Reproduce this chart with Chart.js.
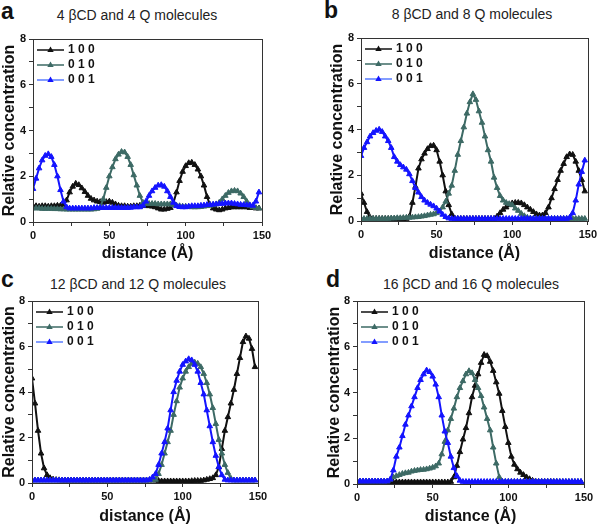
<!DOCTYPE html>
<html>
<head>
<meta charset="utf-8">
<script src="https://cdn.jsdelivr.net/npm/chart.js@4.4.1/dist/chart.umd.min.js"></script>
<style>
  body { margin: 0; background: #fff; width: 600px; height: 527px; overflow: hidden; position: relative;
         font-family: 'Liberation Sans', Arial, sans-serif; }
  .panel { position: absolute; }
  .letter { position: absolute; font-weight: bold; font-size: 23px; line-height: 23px; color: #111; }
  .title { position: absolute; width: 300px; text-align: center; font-size: 14px; line-height: 14px; color: #222; white-space: nowrap; }
</style>
</head>
<body>
<div class="letter" style="left:1px;top:0px">a</div>
<div class="letter" style="left:324px;top:-1px">b</div>
<div class="letter" style="left:1px;top:268px">c</div>
<div class="letter" style="left:326px;top:268px">d</div>

<div class="title" style="left:-13px;top:8px">4 βCD and 4 Q molecules</div>
<div class="title" style="left:322px;top:7px">8 βCD and 8 Q molecules</div>
<div class="title" style="left:-12px;top:277px">12 βCD and 12 Q molecules</div>
<div class="title" style="left:321px;top:277px">16 βCD and 16 Q molecules</div>

<div class="panel" style="left:0;top:0;width:300px;height:263px"><canvas id="chartA"></canvas></div>
<div class="panel" style="left:300px;top:0;width:300px;height:263px"><canvas id="chartB"></canvas></div>
<div class="panel" style="left:0;top:263px;width:300px;height:264px"><canvas id="chartC"></canvas></div>
<div class="panel" style="left:300px;top:263px;width:300px;height:264px"><canvas id="chartD"></canvas></div>

<script>
// distance (Å) shared by all panels
const distance = [0,2,4,6,8,10,12,14,16,18,20,22,24,26,28,30,32,34,36,38,
  40,42,44,46,48,50,52,54,56,58,60,62,64,66,68,70,72,74,76,78,
  80,82,84,86,88,90,92,94,96,98,100,102,104,106,108,110,112,114,116,118,
  120,122,124,126,128,130,132,134,136,138,140,142,144,146,148];

const seriesNames = ['1 0 0', '0 1 0', '0 0 1'];

// a: 4 βCD and 4 Q molecules
const a100 = [0.70,0.70,0.68,0.70,0.70,0.68,0.70,0.70,0.72,0.72,
  0.75,0.95,1.30,1.55,1.68,1.62,1.48,1.32,1.15,1.02,
  0.95,0.90,0.88,0.85,0.88,0.90,0.85,0.78,0.72,0.70,
  0.70,0.68,0.68,0.70,0.70,0.72,0.72,0.70,0.70,0.68,
  0.65,0.60,0.55,0.55,0.58,0.62,0.85,1.30,1.80,2.20,
  2.45,2.58,2.60,2.50,2.30,2.00,1.60,1.10,0.75,0.60,
  0.55,0.52,0.55,0.60,0.62,0.65,0.65,0.65,0.65,0.65,
  0.65,0.62,0.62,0.60,0.60];
const a010 = [0.60,0.60,0.60,0.58,0.58,0.58,0.58,0.57,0.57,0.56,
  0.56,0.55,0.55,0.55,0.55,0.55,0.55,0.55,0.55,0.55,
  0.56,0.58,0.65,1.00,1.50,2.00,2.40,2.75,2.95,3.07,
  3.05,2.85,2.50,2.05,1.60,1.15,0.85,0.80,0.80,0.80,
  0.80,0.78,0.78,0.78,0.78,0.78,0.75,0.72,0.70,0.68,
  0.68,0.66,0.65,0.65,0.65,0.66,0.68,0.70,0.72,0.74,
  0.78,0.85,1.00,1.15,1.28,1.35,1.37,1.35,1.25,1.10,
  0.90,0.72,0.65,0.62,0.60];
const a001 = [1.45,1.90,2.35,2.70,2.90,2.97,2.85,2.50,2.00,1.40,
  0.90,0.65,0.60,0.60,0.60,0.60,0.60,0.60,0.60,0.60,
  0.62,0.62,0.62,0.62,0.62,0.62,0.62,0.62,0.62,0.62,
  0.62,0.62,0.63,0.65,0.65,0.65,0.72,0.90,1.15,1.35,
  1.50,1.60,1.62,1.55,1.35,1.10,0.85,0.70,0.66,0.65,
  0.65,0.68,0.70,0.70,0.70,0.72,0.73,0.75,0.75,0.77,
  0.78,0.80,0.80,0.82,0.82,0.82,0.80,0.78,0.76,0.75,
  0.74,0.74,0.72,0.90,1.30];

// b: 8 βCD and 8 Q molecules
const b100 = [1.20,0.80,0.40,0.15,0.10,0.10,0.10,0.10,0.10,0.10,
  0.10,0.10,0.10,0.10,0.10,0.10,0.20,0.80,1.50,2.30,
  2.70,2.95,3.15,3.28,3.30,3.10,2.60,2.00,1.30,0.70,
  0.30,0.12,0.10,0.10,0.10,0.10,0.10,0.10,0.10,0.10,
  0.10,0.10,0.10,0.10,0.10,0.20,0.35,0.50,0.60,0.70,
  0.78,0.80,0.80,0.78,0.70,0.60,0.50,0.40,0.30,0.25,
  0.25,0.35,0.60,1.00,1.40,1.80,2.20,2.50,2.80,2.92,
  2.90,2.60,2.20,1.80,1.30];
const b010 = [0.10,0.10,0.10,0.10,0.10,0.10,0.10,0.10,0.10,0.10,
  0.12,0.12,0.13,0.13,0.14,0.15,0.15,0.16,0.17,0.18,
  0.20,0.22,0.25,0.28,0.30,0.35,0.42,0.60,0.85,1.20,
  1.55,2.20,2.90,3.50,4.10,4.70,5.20,5.55,5.30,4.80,
  4.30,3.70,3.10,2.60,1.90,1.45,1.10,0.90,0.80,0.75,
  0.70,0.55,0.45,0.32,0.22,0.15,0.12,0.10,0.10,0.10,
  0.10,0.10,0.10,0.10,0.10,0.10,0.10,0.10,0.10,0.10,
  0.10,0.10,0.10,0.10,0.10];
const b001 = [2.85,3.20,3.45,3.70,3.85,3.95,4.00,3.90,3.70,3.50,
  3.20,2.80,2.60,2.45,2.35,2.25,2.05,1.75,1.45,1.25,
  1.05,0.90,0.80,0.72,0.65,0.55,0.42,0.28,0.18,0.12,
  0.10,0.10,0.10,0.10,0.10,0.10,0.10,0.10,0.10,0.10,
  0.10,0.10,0.10,0.10,0.10,0.10,0.10,0.10,0.10,0.10,
  0.10,0.10,0.10,0.10,0.10,0.10,0.10,0.10,0.10,0.10,
  0.10,0.10,0.10,0.10,0.10,0.10,0.10,0.10,0.10,0.15,
  0.35,0.90,1.60,2.15,2.65];

// c: 12 βCD and 12 Q molecules
const c100 = [4.60,3.50,2.30,1.30,0.65,0.35,0.22,0.16,0.14,0.13,
  0.12,0.12,0.12,0.12,0.12,0.12,0.12,0.12,0.12,0.12,
  0.12,0.12,0.12,0.12,0.12,0.12,0.12,0.12,0.12,0.12,
  0.12,0.12,0.12,0.12,0.12,0.12,0.12,0.12,0.12,0.12,
  0.12,0.12,0.10,0.08,0.08,0.08,0.08,0.08,0.08,0.08,
  0.08,0.08,0.08,0.09,0.10,0.10,0.10,0.12,0.15,0.18,
  0.22,0.35,0.70,1.50,2.30,2.90,3.50,4.10,4.80,5.50,
  6.20,6.45,6.35,5.90,5.10];
const c010 = [0.12,0.12,0.12,0.12,0.12,0.12,0.12,0.12,0.12,0.12,
  0.12,0.12,0.12,0.12,0.12,0.12,0.12,0.12,0.12,0.12,
  0.12,0.12,0.12,0.12,0.12,0.12,0.12,0.12,0.12,0.12,
  0.12,0.12,0.12,0.12,0.12,0.12,0.12,0.12,0.12,0.12,
  0.12,0.15,0.40,0.80,1.30,1.80,2.30,3.00,3.60,4.20,
  4.60,4.90,5.10,5.25,5.30,5.25,5.10,4.80,4.40,3.90,
  3.30,2.60,1.90,1.30,0.80,0.45,0.20,0.12,0.12,0.12,
  0.12,0.12,0.12,0.12,0.12];
const c001 = [0.12,0.12,0.12,0.12,0.12,0.12,0.12,0.12,0.12,0.12,
  0.12,0.12,0.12,0.12,0.12,0.12,0.12,0.12,0.12,0.12,
  0.12,0.12,0.12,0.12,0.12,0.12,0.12,0.12,0.12,0.12,
  0.12,0.12,0.12,0.12,0.12,0.12,0.12,0.12,0.12,0.15,
  0.25,0.40,0.80,1.30,1.80,2.40,3.20,4.00,4.50,4.90,
  5.20,5.35,5.45,5.40,5.20,4.90,4.40,3.90,3.20,2.50,
  1.80,1.20,0.70,0.35,0.15,0.12,0.12,0.12,0.12,0.12,
  0.12,0.12,0.12,0.12,0.12];

// d: 16 βCD and 16 Q molecules
const d100 = [0.10,0.10,0.10,0.10,0.10,0.10,0.10,0.10,0.10,0.10,
  0.10,0.10,0.08,0.08,0.08,0.08,0.08,0.08,0.08,0.08,
  0.08,0.08,0.08,0.08,0.08,0.08,0.08,0.08,0.08,0.08,
  0.08,0.10,0.30,0.80,1.40,1.95,2.45,3.10,3.80,4.30,
  4.80,5.30,5.65,5.60,5.35,4.95,4.45,3.95,3.20,2.50,
  1.80,1.20,0.85,0.65,0.50,0.40,0.30,0.22,0.15,0.12,
  0.10,0.10,0.10,0.10,0.10,0.09,0.09,0.08,0.08,0.08,
  0.08,0.08,0.08,0.08,0.08];
const d010 = [0.12,0.12,0.12,0.12,0.12,0.12,0.12,0.12,0.12,0.12,
  0.12,0.20,0.30,0.35,0.40,0.45,0.48,0.50,0.55,0.58,
  0.60,0.62,0.63,0.65,0.68,0.72,0.78,0.90,1.30,1.85,
  2.35,2.85,3.30,3.80,4.20,4.50,4.80,4.94,4.85,4.55,
  4.20,3.85,3.35,2.85,2.35,1.60,0.90,0.30,0.12,0.10,
  0.10,0.10,0.10,0.10,0.10,0.10,0.10,0.10,0.10,0.10,
  0.10,0.10,0.10,0.10,0.10,0.10,0.10,0.10,0.10,0.10,
  0.10,0.10,0.10,0.10,0.10];
const d001 = [0.12,0.12,0.12,0.12,0.12,0.12,0.12,0.12,0.12,0.12,
  0.12,0.20,0.60,1.20,1.60,2.10,2.60,3.00,3.40,3.80,
  4.20,4.55,4.80,4.97,4.90,4.70,4.35,3.80,3.00,2.30,
  1.80,1.20,0.70,0.35,0.15,0.10,0.10,0.10,0.10,0.10,
  0.10,0.10,0.10,0.10,0.10,0.10,0.10,0.10,0.10,0.10,
  0.10,0.10,0.10,0.10,0.10,0.10,0.10,0.10,0.10,0.10,
  0.10,0.10,0.10,0.10,0.10,0.10,0.10,0.10,0.10,0.10,
  0.10,0.10,0.10,0.10,0.10];

const FONT = "'Liberation Sans', Arial, sans-serif";
const colors = ['#111111', '#3d6a65', '#1414ff'];
const legendLines = ['#111111', '#3d6a65', '#5a7dff'];

// box around the plot area
const framePlugin = {
  id: 'frame',
  afterDraw(chart) {
    const {ctx, chartArea: ca} = chart;
    ctx.save();
    ctx.strokeStyle = '#333';
    ctx.lineWidth = 1;
    ctx.strokeRect(Math.round(ca.left) + 0.5, Math.round(ca.top) + 0.5,
      Math.round(ca.right - ca.left), Math.round(ca.bottom - ca.top));
    ctx.restore();
  }
};

// legend in the top-left corner of the plot: line + triangle + bold label
const cornerLegend = {
  id: 'cornerLegend',
  afterDatasetsDraw(chart) {
    const {ctx, chartArea: ca} = chart;
    ctx.save();
    ctx.font = 'bold 12px ' + FONT;
    ctx.textBaseline = 'middle';
    chart.data.datasets.forEach((ds, i) => {
      const y = ca.top + 11 + i * 15;
      const x0 = ca.left + 4, x1 = ca.left + 31, xm = (x0 + x1) / 2;
      ctx.strokeStyle = legendLines[i];
      ctx.lineWidth = 1.5;
      ctx.beginPath(); ctx.moveTo(x0, y); ctx.lineTo(x1, y); ctx.stroke();
      ctx.fillStyle = colors[i];
      ctx.beginPath();
      ctx.moveTo(xm, y - 3.5); ctx.lineTo(xm + 3.2, y + 2); ctx.lineTo(xm - 3.2, y + 2);
      ctx.closePath(); ctx.fill();
      ctx.fillStyle = '#111';
      ctx.fillText(ds.label, ca.left + 35, y);
    });
    ctx.restore();
  }
};

function makeDataset(i, ys) {
  return {
    label: seriesNames[i],
    data: distance.map((x, k) => ({x: x, y: ys[k]})),
    borderColor: colors[i],
    backgroundColor: colors[i],
    pointBackgroundColor: colors[i],
    pointBorderColor: colors[i],
    pointStyle: 'triangle',
    pointRadius: 3.2,
    pointBorderWidth: 1,
    borderWidth: 2,
    tension: 0,
    order: 3 - i   // 0 0 1 drawn on top
  };
}

function makePanel(id, series, g) {
  new Chart(document.getElementById(id), {
    type: 'line',
    data: { datasets: series.map((ys, i) => makeDataset(i, ys)) },
    options: {
      animation: false,
      responsive: true,
      maintainAspectRatio: false,
      layout: { padding: { left: g.left, right: g.right, top: g.top, bottom: g.bottom } },
      plugins: { legend: { display: false }, tooltip: { enabled: false } },
      scales: {
        x: {
          type: 'linear', min: 0, max: 150,
          afterFit: s => { s.height = g.xh; },
          ticks: {
            stepSize: 25, autoSkip: false, maxRotation: 0, padding: 3, color: '#111',
            font: { family: FONT, size: 11, weight: 'bold' },
            callback: v => (v % 50 === 0 ? v : '')
          },
          grid: { drawOnChartArea: false, drawTicks: true, tickLength: 4, tickColor: '#333' },
          border: { color: '#333', width: 1 },
          title: { display: true, text: 'distance (Å)', color: '#111', padding: 0,
                   font: { family: FONT, size: 16, weight: 'bold' } }
        },
        y: {
          min: 0, max: 8,
          afterFit: s => { s.width = g.yw; },
          ticks: {
            stepSize: 1, autoSkip: false, padding: 3, color: '#111',
            font: { family: FONT, size: 11, weight: 'bold' },
            callback: v => (v % 2 === 0 ? v : '')
          },
          grid: { drawOnChartArea: false, drawTicks: true, tickLength: 4, tickColor: '#333' },
          border: { color: '#333', width: 1 },
          title: { display: true, text: 'Relative concentration', color: '#111', padding: 0,
                   font: { family: FONT, size: 16, weight: 'bold' } }
        }
      }
    },
    plugins: [framePlugin, cornerLegend]
  });
}

makePanel('chartA', [a100, a010, a001], { left: 0,  right: 38, top: 39, bottom: 0, xh: 41, yw: 33 });
makePanel('chartB', [b100, b010, b001], { left: 28, right: 11, top: 38, bottom: 0, xh: 42, yw: 33 });
makePanel('chartC', [c100, c010, c001], { left: 0,  right: 42, top: 38, bottom: 1, xh: 43, yw: 32 });
makePanel('chartD', [d100, d010, d001], { left: 25, right: 16, top: 38, bottom: 1, xh: 42, yw: 32 });
</script>
</body>
</html>
